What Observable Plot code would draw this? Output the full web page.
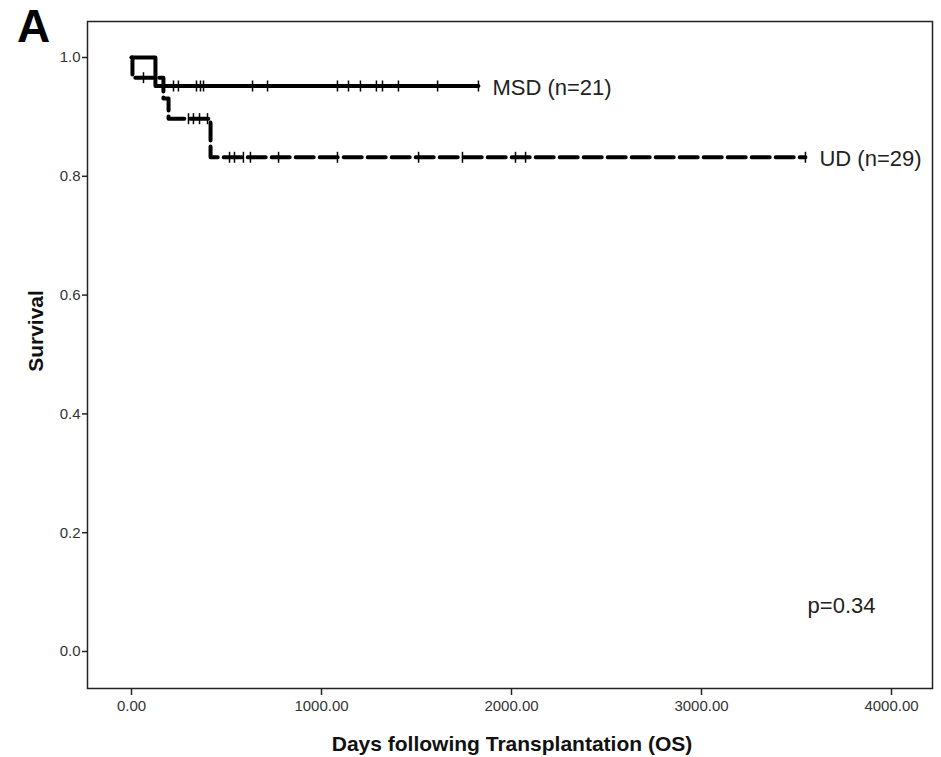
<!DOCTYPE html>
<html>
<head>
<meta charset="utf-8">
<script src="https://cdn.jsdelivr.net/npm/d3@7"></script>
<script src="https://cdn.jsdelivr.net/npm/@observablehq/plot@0.6"></script>
<style>
  body { margin: 0; background: #fff; }
  #chart svg { display: block; }
</style>
</head>
<body>
<div id="chart"></div>
<script>
// Kaplan–Meier overall survival by donor type
const groupLabels = ["MSD (n=21)", "UD (n=29)"];

// Step points (day, survival) for each group
const msdDays = [0, 126, 1826];
const msdSurv = [1.0, 0.952, 0.952];
const udDays  = [0, 5, 168, 195, 416, 3547];
const udSurv  = [1.0, 0.966, 0.931, 0.897, 0.832, 0.832];

// Censored observations (days)
const msdCensorDays = [221, 247, 342, 363, 379, 637, 716, 1084, 1142, 1205, 1289, 1321, 1405, 1611, 1826];
const udCensorDays  = [63, 300, 326, 358, 400, 516, 542, 589, 626, 774, 1084, 1511, 1742, 2021, 2074, 3547];

const xTicks = [0, 1000, 2000, 3000, 4000];
const yTicks = [0, 0.2, 0.4, 0.6, 0.8, 1.0];
const pText = "p=0.34";
const pDay = 3737, pSurv = 0.077;

const toRows = (days, surv) => days.map((d, i) => ({day: d, surv: surv[i]}));
const msd = toRows(msdDays, msdSurv);
const ud = toRows(udDays, udSurv);

// survival at a given day from the step function
function survAt(days, surv, t) {
  let s = surv[0];
  for (let i = 0; i < days.length; i++) if (days[i] <= t) s = surv[i];
  return s;
}
const msdCens = msdCensorDays.map(d => ({day: d, surv: survAt(msdDays, msdSurv, d)}));
const udCens = udCensorDays.map(d => ({day: d, surv: survAt(udDays, udSurv, d)}));

// vertical tick used as the censor symbol
const censorTick = {
  draw(ctx, size) {
    const r = Math.sqrt(size / Math.PI);
    ctx.moveTo(0, -r);
    ctx.lineTo(0, r);
  }
};

const ends = [
  {...msd[msd.length - 1], label: groupLabels[0]},
  {...ud[ud.length - 1], label: groupLabels[1]}
];

const chart = Plot.plot({
  width: 941,
  height: 757,
  marginLeft: 87,
  marginRight: 9,
  marginTop: 21,
  marginBottom: 69,
  style: {fontFamily: "'Liberation Sans', Arial, sans-serif", fontSize: "15px", color: "#222", background: "#fff"},
  x: {domain: [-231.6, 4215.8]},
  y: {domain: [-0.0623, 1.0606]},
  marks: [
    Plot.frame({stroke: "#222", strokeWidth: 1.5}),
    Plot.axisX({ticks: xTicks, tickFormat: d3.format(".2f"), tickSize: 7, tickPadding: 5, label: null, stroke: "#222", strokeWidth: 1.5, fill: "#333", fontSize: 15}),
    Plot.axisY({ticks: yTicks, tickFormat: d3.format(".1f"), tickSize: 5, tickPadding: 2, label: null, stroke: "#222", strokeWidth: 1.5, fill: "#333", fontSize: 15}),
    Plot.line(msd, {x: "day", y: "surv", curve: "step-after", stroke: "#000", strokeWidth: 4}),
    Plot.line(ud, {x: "day", y: "surv", curve: "step-after", stroke: "#000", strokeWidth: 4, strokeDasharray: "18,6"}),
    Plot.dot(msdCens, {x: "day", y: "surv", symbol: censorTick, r: 5.5, stroke: "#000", strokeWidth: 1.5, fill: "none"}),
    Plot.dot(udCens, {x: "day", y: "surv", symbol: censorTick, r: 5.5, stroke: "#000", strokeWidth: 1.5, fill: "none"}),
    Plot.text(ends, {x: "day", y: "surv", text: "label", textAnchor: "start", dx: 14, dy: 2, fontSize: 22, fill: "#222"}),
    Plot.text([pText], {x: () => pDay, y: () => pSurv, text: d => d, fontSize: 22, fill: "#222"}),
    Plot.text(["Days following Transplantation (OS)"], {frameAnchor: "bottom", textAnchor: "middle", dx: 2, dy: 62, fontSize: 21, fontWeight: "bold", fill: "#111"}),
    Plot.text(["Survival"], {frameAnchor: "left", textAnchor: "middle", dx: -51, dy: -24, rotate: -90, fontSize: 21, fontWeight: "bold", fill: "#111"}),
    Plot.text(["A"], {frameAnchor: "top-left", textAnchor: "middle", dx: -54, dy: -12, fontSize: 46, fontWeight: "bold", fill: "#000"})
  ]
});

document.getElementById("chart").append(chart);
</script>
</body>
</html>
